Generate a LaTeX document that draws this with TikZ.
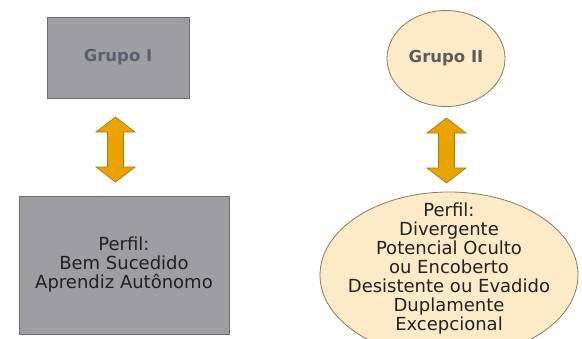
\documentclass[tikz,border=0pt]{standalone}
\usepackage{fontspec}
\setmainfont{DejaVu Sans}
\usetikzlibrary{shapes.geometric,calc}
\definecolor{boxgray}{HTML}{9E9DA2}
\definecolor{boxline}{HTML}{6E6E72}
\definecolor{beige}{HTML}{FDEBC8}
\definecolor{beigeline}{HTML}{857A62}
\definecolor{arrowfill}{HTML}{E9A300}
\definecolor{arrowline}{HTML}{A87A12}
\definecolor{titleblue}{HTML}{5B5F70}
\definecolor{titlegray}{HTML}{5C5C5C}
\definecolor{bodytext}{HTML}{222222}
\tikzset{
  graybox/.style={draw=boxline, line width=0.8pt, fill=boxgray, rectangle, inner sep=0pt},
  beigeell/.style={draw=beigeline, line width=0.8pt, fill=beige, ellipse, inner sep=0pt},
  titletext/.style={font=\fontsize{16.5pt}{19pt}\selectfont\bfseries},
  bodytxt/.style={align=center, text=bodytext, font=\fontsize{18pt}{19pt}\selectfont},
  fatarrow/.style={draw=arrowline, line width=0.7pt, fill=arrowfill, line join=miter}
}
\newcommand{\dblarrow}[2]{%
  \draw[fatarrow] (#1) -- ++(19.5,15) -- ++(-11.5,0) -- ($(#2)+(8,-15)$) -- ++(11.5,0)
    -- (#2) -- ++(-19.5,-15) -- ++(11.5,0) -- ($(#1)+(-8,15)$) -- ++(-11.5,0) -- cycle;}
\begin{document}
\begin{tikzpicture}[x=1pt,y=-1pt]
\useasboundingbox (0,0) rectangle (582,338);
\clip (0,0) rectangle (582,338);
\fill[white] (0,0) rectangle (582,338);
% top boxes
\node[graybox, minimum width=142pt, minimum height=81pt, titletext, text=titleblue] (g1) at (118,57.5) {Grupo I};
\node[beigeell, minimum width=118pt, minimum height=96pt, titletext, text=titlegray] (g2) at (446,58.5) {Grupo II};
% bottom shapes
\node[graybox, minimum width=210pt, minimum height=138pt] (p1) at (124,265) {};
\node[bodytxt] (p1t) at (p1) {Perfil:\\Bem Sucedido\\Aprendiz Autônomo};
\node[beigeell, minimum width=258pt, minimum height=166pt] (p2) at (449,275) {};
\node[bodytxt] (p2t) at (449,269) {Perfil:\\Divergente\\Potencial Oculto\\ou Encoberto\\Desistente ou Evadido\\Duplamente\\Excepcional};
% arrows
\coordinate (a1t) at (115.5,117);
\coordinate (a1b) at (115.5,182);
\coordinate (a2t) at (446.5,118);
\coordinate (a2b) at (446.5,183);
\dblarrow{a1t}{a1b}
\dblarrow{a2t}{a2b}
\end{tikzpicture}
\end{document}
